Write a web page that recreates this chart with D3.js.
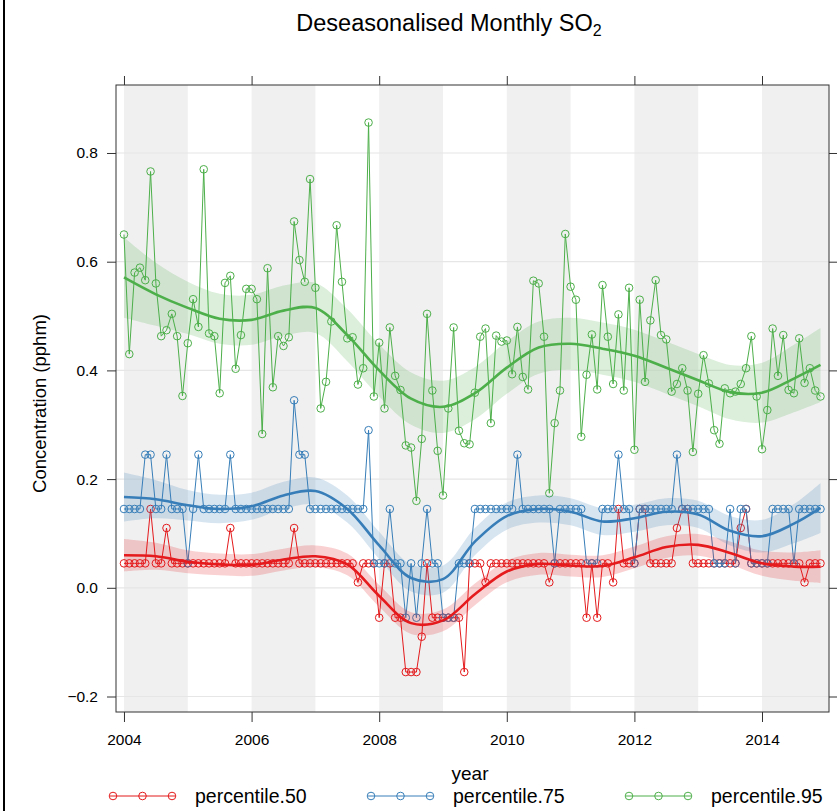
<!DOCTYPE html>
<html>
<head>
<meta charset="utf-8">
<script src="https://cdn.jsdelivr.net/npm/d3@7"></script>
<style>
  body { margin: 0; background: #fff; }
  svg text { font-family: "Liberation Sans", Arial, sans-serif; fill: #000; }
</style>
</head>
<body>
<svg id="chart" width="837" height="811"></svg>
<script>
// ---- data: deseasonalised monthly SO2 percentiles, Jan 2004 .. Dec 2014 ----
const startYear = 2004;

const p50 = [
  0.045, 0.045, 0.045, 0.045, 0.045, 0.145, 0.045, 0.045, 0.110, 0.045, 0.045, 0.045,
  0.045, 0.045, 0.045, 0.045, 0.045, 0.045, 0.045, 0.045, 0.110, 0.045, 0.045, 0.045,
  0.045, 0.045, 0.045, 0.045, 0.045, 0.045, 0.045, 0.045, 0.110, 0.045, 0.045, 0.045,
  0.045, 0.045, 0.045, 0.045, 0.045, 0.045, 0.045, 0.045, 0.010, 0.045, 0.045, 0.045,
  -0.055, 0.045, 0.045, -0.055, -0.055, -0.155, -0.155, -0.155, -0.090, 0.045, -0.055, -0.055,
  -0.055, -0.055, -0.055, -0.055, -0.155, 0.045, 0.045, 0.045, 0.010, 0.045, 0.045, 0.045,
  0.045, 0.045, 0.045, 0.045, 0.045, 0.045, 0.045, 0.045, 0.010, 0.045, 0.045, 0.045,
  0.045, 0.045, 0.045, -0.055, 0.045, -0.055, 0.045, 0.045, 0.010, 0.145, 0.045, 0.045,
  0.045, 0.145, 0.145, 0.045, 0.045, 0.045, 0.045, 0.045, 0.110, 0.145, 0.145, 0.045,
  0.045, 0.045, 0.045, 0.045, 0.045, 0.045, 0.045, 0.045, 0.110, 0.145, 0.045, 0.045,
  0.045, 0.045, 0.045, 0.045, 0.045, 0.045, 0.045, 0.045, 0.010, 0.045, 0.045, 0.045
];

const p75 = [
  0.145, 0.145, 0.145, 0.145, 0.245, 0.245, 0.145, 0.145, 0.245, 0.145, 0.145, 0.145,
  0.045, 0.145, 0.245, 0.145, 0.145, 0.145, 0.145, 0.145, 0.245, 0.145, 0.145, 0.145,
  0.145, 0.145, 0.145, 0.145, 0.145, 0.145, 0.145, 0.145, 0.345, 0.245, 0.245, 0.145,
  0.145, 0.145, 0.145, 0.145, 0.145, 0.145, 0.145, 0.145, 0.145, 0.145, 0.290, 0.045,
  0.045, 0.045, 0.145, 0.045, 0.045, -0.055, 0.045, -0.055, 0.045, 0.145, 0.045, 0.045,
  -0.055, -0.055, -0.055, 0.045, 0.045, 0.045, 0.145, 0.145, 0.145, 0.145, 0.145, 0.145,
  0.145, 0.145, 0.245, 0.145, 0.145, 0.145, 0.145, 0.145, 0.145, 0.045, 0.145, 0.145,
  0.145, 0.145, 0.145, 0.045, 0.045, 0.045, 0.145, 0.145, 0.145, 0.245, 0.145, 0.145,
  0.045, 0.145, 0.145, 0.145, 0.145, 0.145, 0.145, 0.145, 0.245, 0.145, 0.145, 0.145,
  0.145, 0.145, 0.145, 0.045, 0.045, 0.045, 0.145, 0.045, 0.145, 0.145, 0.045, 0.045,
  0.045, 0.045, 0.145, 0.145, 0.145, 0.145, 0.045, 0.145, 0.145, 0.145, 0.145, 0.145
];

const p95 = [
  0.650, 0.430, 0.580, 0.589, 0.566, 0.766, 0.560, 0.463, 0.474, 0.504, 0.463, 0.353,
  0.450, 0.531, 0.480, 0.770, 0.468, 0.463, 0.358, 0.561, 0.574, 0.403, 0.465, 0.550,
  0.550, 0.531, 0.283, 0.588, 0.369, 0.463, 0.445, 0.461, 0.674, 0.603, 0.563, 0.752,
  0.552, 0.330, 0.379, 0.490, 0.667, 0.563, 0.459, 0.461, 0.374, 0.404, 0.856, 0.352,
  0.451, 0.330, 0.479, 0.390, 0.364, 0.262, 0.258, 0.160, 0.274, 0.504, 0.363, 0.252,
  0.170, 0.330, 0.479, 0.289, 0.266, 0.264, 0.359, 0.462, 0.477, 0.303, 0.464, 0.453,
  0.455, 0.393, 0.480, 0.388, 0.365, 0.565, 0.560, 0.462, 0.174, 0.303, 0.363, 0.651,
  0.554, 0.530, 0.278, 0.392, 0.466, 0.365, 0.557, 0.462, 0.375, 0.503, 0.363, 0.552,
  0.254, 0.530, 0.379, 0.492, 0.566, 0.465, 0.457, 0.361, 0.375, 0.404, 0.363, 0.250,
  0.357, 0.428, 0.376, 0.290, 0.265, 0.367, 0.358, 0.361, 0.375, 0.404, 0.463, 0.352,
  0.255, 0.327, 0.477, 0.390, 0.465, 0.364, 0.358, 0.459, 0.377, 0.404, 0.363, 0.352
];

// smooth trend fits (month index since Jan 2004) with half-width of the 95% interval
const fitMonths = [0, 6, 12, 18, 24, 30, 36, 42, 48, 54, 60, 66, 72, 78, 84, 90, 96, 102, 108, 114, 120, 126, 131];
const fit50 = [0.060, 0.058, 0.048, 0.043, 0.042, 0.052, 0.058, 0.043, -0.015, -0.065, -0.060, -0.012,
               0.030, 0.044, 0.041, 0.040, 0.056, 0.075, 0.079, 0.064, 0.045, 0.039, 0.039];
const fit75 = [0.167, 0.163, 0.152, 0.145, 0.150, 0.170, 0.178, 0.145, 0.078, 0.018, 0.016, 0.085,
               0.132, 0.145, 0.140, 0.122, 0.128, 0.140, 0.135, 0.105, 0.095, 0.118, 0.147];
const fit95 = [0.571, 0.540, 0.515, 0.495, 0.493, 0.510, 0.515, 0.465, 0.400, 0.348, 0.333, 0.358,
               0.405, 0.442, 0.449, 0.440, 0.427, 0.405, 0.382, 0.360, 0.359, 0.385, 0.410];
const ci50 = [0.030, 0.025, 0.021, 0.020, 0.020, 0.020, 0.020, 0.020, 0.020, 0.020, 0.020, 0.020,
              0.020, 0.020, 0.020, 0.020, 0.020, 0.020, 0.020, 0.021, 0.023, 0.026, 0.030];
const ci75 = [0.045, 0.035, 0.028, 0.026, 0.025, 0.025, 0.025, 0.025, 0.025, 0.025, 0.025, 0.025,
              0.025, 0.025, 0.025, 0.025, 0.025, 0.025, 0.025, 0.027, 0.030, 0.036, 0.046];
const ci95 = [0.074, 0.058, 0.048, 0.046, 0.046, 0.046, 0.046, 0.048, 0.048, 0.048, 0.048, 0.048,
              0.048, 0.048, 0.048, 0.048, 0.048, 0.048, 0.048, 0.050, 0.055, 0.062, 0.068];

const seriesNames = ["percentile.50", "percentile.75", "percentile.95"];
const seriesColors = ["#e41a1c", "#377eb8", "#4daf4a"];
const yTicks = [-0.2, 0.0, 0.2, 0.4, 0.6, 0.8];
const xTicks = [2004, 2006, 2008, 2010, 2012, 2014];
const shadedYears = [2004, 2006, 2008, 2010, 2012, 2014];

// ---- layout ----
const svg = d3.select("#chart");
const panel = { left: 116, right: 829, top: 85, bottom: 712 };

const x = d3.scaleLinear().domain([2003.875, 2015.05]).range([panel.left, panel.right]);
const y = d3.scaleLinear().domain([-0.2285, 0.9251]).range([panel.bottom, panel.top]);
const monthToYear = m => startYear + m / 12;

// outer page edge line on the left
svg.append("line").attr("x1", 4).attr("x2", 4).attr("y1", 0).attr("y2", 811)
  .attr("stroke", "#000").attr("stroke-width", 2);

// title
const title = svg.append("text").attr("x", 449).attr("y", 31)
  .attr("text-anchor", "middle").style("font-size", "23.5px");
title.append("tspan").text("Deseasonalised Monthly SO");
title.append("tspan").attr("dy", 5).style("font-size", "16px").text("2");

const plot = svg.append("g");
plot.append("clipPath").attr("id", "panel-clip").append("rect")
  .attr("x", panel.left).attr("y", panel.top)
  .attr("width", panel.right - panel.left).attr("height", panel.bottom - panel.top);

// alternating year shading
plot.append("g").attr("clip-path", "url(#panel-clip)")
  .selectAll("rect").data(shadedYears).join("rect")
  .attr("x", d => x(d))
  .attr("width", (d, i) => (i === shadedYears.length - 1 ? panel.right : x(d + 1)) - x(d))
  .attr("y", panel.top).attr("height", panel.bottom - panel.top)
  .attr("fill", "#f0f0f0");

// horizontal reference lines
plot.append("g").selectAll("line").data(yTicks).join("line")
  .attr("x1", panel.left).attr("x2", panel.right)
  .attr("y1", d => y(d)).attr("y2", d => y(d))
  .attr("stroke", "#e6e6e6").attr("stroke-width", 1.2);

const obs = [p50, p75, p95];
const fits = [fit50, fit75, fit95];
const cis = [ci50, ci75, ci95];

const dataLayer = plot.append("g").attr("clip-path", "url(#panel-clip)");

// monthly values: lines with open circles
obs.forEach((vals, s) => {
  const pts = vals.map((v, i) => [monthToYear(i), v]);
  const g = dataLayer.append("g");
  g.append("path").datum(pts)
    .attr("d", d3.line().x(d => x(d[0])).y(d => y(d[1])))
    .attr("fill", "none").attr("stroke", seriesColors[s]).attr("stroke-width", 1);
  g.selectAll("circle").data(pts).join("circle")
    .attr("cx", d => x(d[0])).attr("cy", d => y(d[1])).attr("r", 3.8)
    .attr("fill", "none").attr("stroke", seriesColors[s]).attr("stroke-width", 1);
});

// smooth trends with uncertainty ribbons
fits.forEach((vals, s) => {
  const pts = vals.map((v, i) => ({ t: monthToYear(fitMonths[i]), v, h: cis[s][i] }));
  const curve = d3.curveCatmullRom.alpha(0.5);
  dataLayer.append("path").datum(pts)
    .attr("d", d3.area().curve(curve).x(d => x(d.t)).y0(d => y(d.v - d.h)).y1(d => y(d.v + d.h)))
    .attr("fill", seriesColors[s]).attr("fill-opacity", 0.2).attr("stroke", "none");
  dataLayer.append("path").datum(pts)
    .attr("d", d3.line().curve(curve).x(d => x(d.t)).y(d => y(d.v)))
    .attr("fill", "none").attr("stroke", seriesColors[s]).attr("stroke-width", 2.6);
});

// panel frame
svg.append("rect")
  .attr("x", panel.left).attr("y", panel.top)
  .attr("width", panel.right - panel.left).attr("height", panel.bottom - panel.top)
  .attr("fill", "none").attr("stroke", "#333").attr("stroke-width", 1);

// axes
const fmt = d3.format(".1f");
const axisStyle = g => {
  g.select(".domain").remove();
  g.selectAll(".tick line").attr("stroke", "#333");
  g.selectAll(".tick text").style("font-size", "15.5px").attr("fill", "#000");
};
svg.append("g").attr("transform", `translate(${panel.left},0)`)
  .call(d3.axisLeft(y).tickValues(yTicks).tickFormat(fmt).tickSize(9).tickPadding(9))
  .call(axisStyle);
svg.append("g").attr("transform", `translate(${panel.right},0)`)
  .call(d3.axisRight(y).tickValues(yTicks).tickFormat("").tickSize(9))
  .call(axisStyle);
svg.append("g").attr("transform", `translate(0,${panel.bottom})`)
  .call(d3.axisBottom(x).tickValues(xTicks).tickFormat(d3.format("d")).tickSize(10).tickPadding(12))
  .call(axisStyle);
svg.append("g").attr("transform", `translate(0,${panel.top})`)
  .call(d3.axisTop(x).tickValues(xTicks).tickFormat("").tickSize(9))
  .call(axisStyle);

// axis titles
svg.append("text")
  .attr("transform", `translate(46,${(panel.top + panel.bottom) / 2 + 5}) rotate(-90)`)
  .attr("text-anchor", "middle").style("font-size", "18.5px")
  .text("Concentration (pphm)");
svg.append("text").attr("x", 470).attr("y", 780)
  .attr("text-anchor", "middle").style("font-size", "19px").text("year");

// legend
const legendX = [110, 368, 626];
const legend = svg.append("g");
seriesNames.forEach((name, s) => {
  const g = legend.append("g").attr("transform", `translate(${legendX[s]},796)`);
  g.append("line").attr("x1", 0).attr("x2", 65).attr("y1", 0).attr("y2", 0)
    .attr("stroke", seriesColors[s]).attr("stroke-width", 1);
  [3, 32.5, 62].forEach(cx => g.append("circle").attr("cx", cx).attr("cy", 0).attr("r", 3.8)
    .attr("fill", "none").attr("stroke", seriesColors[s]).attr("stroke-width", 1));
  g.append("text").attr("x", 85).attr("y", 7).style("font-size", "19.5px").text(name);
});
</script>
</body>
</html>
